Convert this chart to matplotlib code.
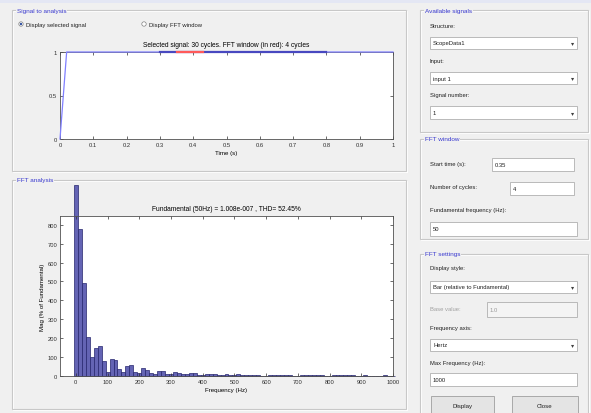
import numpy as np
import matplotlib
matplotlib.use("Agg")
import matplotlib.pyplot as plt
from matplotlib.patches import Rectangle, Circle

plt.rcParams['font.family'] = ['Liberation Sans', 'DejaVu Sans']

W, H = 591, 414

# ---- data ----
sig_t = [0.0, 0.02, 1.0]
sig_y = [0.0, 1.0, 1.0]
sel_window = [0.30, 0.80]       # selected signal (dark blue)
fft_window = [0.35, 0.43]       # FFT window (red)

df = 12.5                        # frequency resolution (Hz)
mag = [1010, 777, 492, 205, 100, 150, 160, 80, 20, 90, 85, 38, 22, 55, 58, 22,
       14, 40, 32, 14, 10, 25, 28, 8, 8, 22, 14, 12, 10, 14, 18, 5,
       5, 12, 8, 8, 7, 7, 10, 3, 3, 8, 6, 5, 5, 5, 7, 2,
       2, 6, 4, 4, 4, 4, 6, 2, 2, 5, 3, 3, 3, 3, 5, 2,
       2, 4, 3, 3, 3, 3, 4, 1, 1, 4, 2, 2, 2, 2, 3, 1, 1]
freqs = np.arange(len(mag)) * df

top_title = "Selected signal: 30 cycles. FFT window (in red): 4 cycles"
fft_title = "Fundamental (50Hz) = 1.008e-007 , THD= 52.45%"

BG = '#f0f0f0'
TITLE_C = '#3a3ad0'

fig = plt.figure(figsize=(W / 100, H / 100), dpi=100, facecolor=BG)
bg = fig.add_axes([0, 0, 1, 1])
bg.set_xlim(0, W)
bg.set_ylim(H, 0)
bg.axis('off')


def frac(x0, y0, x1, y1):
    return [x0 / W, (H - y1) / H, (x1 - x0) / W, (y1 - y0) / H]


def panel(x0, y0, x1, y1, title):
    bg.add_patch(Rectangle((x0 + 1, y0 + 1), x1 - x0, y1 - y0, fill=False,
                           ec='white', lw=0.8))
    bg.add_patch(Rectangle((x0, y0), x1 - x0, y1 - y0, fill=False,
                           ec='#c8c8c8', lw=0.8))
    bg.text(x0 + 5, y0, title, color=TITLE_C, fontsize=4.6, va='center',
            ha='left', bbox=dict(fc=BG, ec='none', pad=0.6))


def label(x, y, s, color='#202020'):
    bg.text(x, y, s, fontsize=4.2, va='center', ha='left', color=color)


def edit(x0, y0, x1, y1, s, enabled=True, arrow=False):
    bg.add_patch(Rectangle((x0, y0), x1 - x0, y1 - y0,
                           fc='white' if enabled else '#f4f4f4',
                           ec='#b0b0b0', lw=0.6))
    bg.text(x0 + 3, (y0 + y1) / 2, s, fontsize=4.2, va='center', ha='left',
            color='#202020' if enabled else '#9a9a9a')
    if arrow:
        bg.text(x1 - 4, (y0 + y1) / 2, '\u25BE', fontsize=4.5, va='center',
                ha='center', color='#404040')


def button(x0, y0, x1, y1, s):
    bg.add_patch(Rectangle((x0, y0), x1 - x0, y1 - y0, fc='#e4e4e4',
                           ec='#a8a8a8', lw=0.7))
    bg.text((x0 + x1) / 2, (y0 + y1) / 2, s, fontsize=4.4, va='center',
            ha='center', color='#202020')


def radio(x, y, s, on):
    bg.add_patch(Circle((x, y), 2.2, fc='white', ec='#808080', lw=0.5))
    if on:
        bg.add_patch(Circle((x, y), 1.2, fc='#3050a0', ec='none'))
    label(x + 5, y, s)


# top strip
bg.add_patch(Rectangle((0, 0), W, 4, fc='#e4e7f4', ec='none'))

# left panels
panel(12, 11, 406, 172, "Signal to analysis")
radio(21, 25, "Display selected signal", True)
radio(144, 25, "Display FFT window", False)
panel(12, 181, 406, 410, "FFT analysis")

# right column
panel(420, 11, 588, 133, "Available signals")
label(430, 27, "Structure:")
edit(430, 38, 577, 50, "ScopeData1", arrow=True)
label(430, 62, "Input:")
edit(430, 73, 577, 85, "input 1", arrow=True)
label(430, 96, "Signal number:")
edit(430, 107, 577, 120, "1", arrow=True)

panel(420, 140, 588, 240, "FFT window")
label(430, 165, "Start time (s):")
edit(492, 159, 574, 172, "0.35")
label(430, 188, "Number of cycles:")
edit(510, 183, 574, 196, "4")
label(430, 211, "Fundamental frequency (Hz):")
edit(430, 223, 577, 237, "50")

panel(420, 255, 588, 416, "FFT settings")
label(430, 269, "Display style:")
edit(430, 282, 577, 294, "Bar (relative to Fundamental)", arrow=True)
label(430, 310, "Base value:", color='#a0a0a0')
edit(487, 303, 577, 318, "1.0", enabled=False)
label(430, 329, "Frequency axis:")
edit(430, 340, 577, 352, "Hertz", arrow=True)
label(430, 364, "Max Frequency (Hz):")
edit(430, 374, 577, 387, "1000")
button(431, 397, 494, 416, "Display")
button(512, 397, 578, 416, "Close")


def style(ax):
    ax.set_facecolor('white')
    for sp in ax.spines.values():
        sp.set_color('#505050')
        sp.set_linewidth(0.6)
    ax.tick_params(direction='in', length=2.5, width=0.5, labelsize=4.2,
                   top=True, right=True, colors='#303030', pad=2)


# time signal
ax1 = fig.add_axes(frac(60, 53, 393, 140))
style(ax1)
ax1.plot(sig_t, sig_y, color='#8080ff', lw=0.9, clip_on=False, zorder=5)
ax1.plot(sel_window, [1, 1], color='#4848c0', lw=1.6, clip_on=False, zorder=6)
ax1.plot(fft_window, [1, 1], color='#ff5a5a', lw=1.6, clip_on=False, zorder=7)
ax1.set_xlim(0, 1)
ax1.set_ylim(0, 1)
ax1.set_xticks(np.arange(0, 1.01, 0.1))
ax1.set_xticklabels(['0', '0.1', '0.2', '0.3', '0.4', '0.5', '0.6', '0.7',
                     '0.8', '0.9', '1'])
ax1.set_yticks([0, 0.5, 1])
ax1.set_yticklabels(['0', '0.5', '1'])
ax1.set_xlabel("Time (s)", fontsize=4.4, labelpad=2)
ax1.set_title(top_title, fontsize=4.8, pad=4)

# FFT spectrum
ax2 = fig.add_axes(frac(60, 217, 393, 377))
style(ax2)
bars = ax2.bar(freqs, mag, width=df, color='#6464b4', edgecolor='#26266e',
               linewidth=0.5)
for b in bars:
    b.set_clip_on(False)
ax2.set_xlim(-50, 1000)
ax2.set_ylim(0, 846)
ax2.set_xticks(np.arange(0, 1001, 100))
ax2.set_yticks(np.arange(0, 801, 100))
ax2.set_xlabel("Frequency (Hz)", fontsize=4.4, labelpad=2)
ax2.set_ylabel("Mag (% of Fundamental)", fontsize=4.4, labelpad=2)
ax2.set_title(fft_title, fontsize=4.8, pad=4)

fig.savefig("out.png", dpi=100, facecolor=BG)
